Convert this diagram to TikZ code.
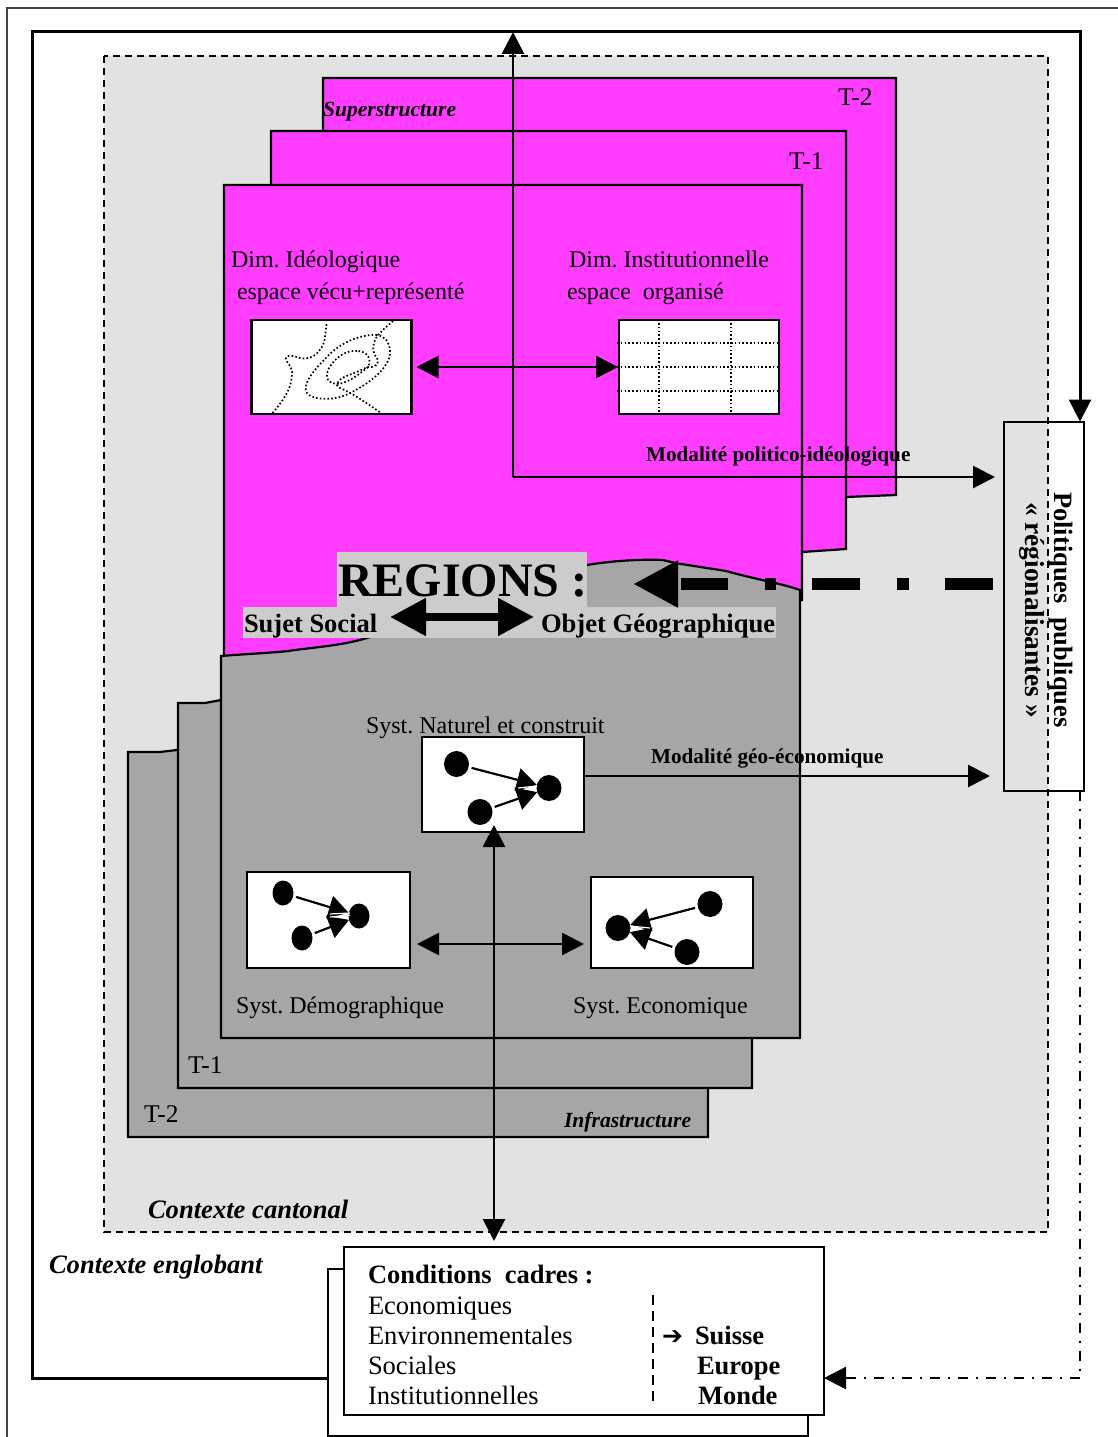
\documentclass[tikz,border=0pt]{standalone}
\usepackage{fontspec}
\setmainfont{Liberation Serif}
\newfontfamily\dejavu{DejaVu Sans}
\usetikzlibrary{arrows.meta,shapes.geometric,calc}
\newcommand{\fsz}[1]{\fontsize{#1}{#1}\selectfont\frenchspacing}
\definecolor{ctxgray}{HTML}{E2E2E2}
\definecolor{sheetgray}{HTML}{A6A6A6}
\definecolor{labelgray}{HTML}{CCCCCC}
\definecolor{sheetpink}{HTML}{FF3CFF}
\tikzset{
  txt/.style={anchor=base west,inner sep=0pt,outer sep=0pt,text=black},
  body/.style={txt,font=\fsz{24}},
  tlab/.style={txt,font=\fsz{25.5}},
  bodyl/.style={txt,font=\fsz{26.5}},
  boldl/.style={txt,font=\fsz{26.5}\bfseries},
  modal/.style={txt,font=\fsz{21.2}\bfseries},
  itb/.style={txt,font=\fsz{26.6}\bfseries\itshape},
  its/.style={txt,font=\fsz{21.6}\bfseries\itshape},
  pinksheet/.style={fill=sheetpink,draw=black,line width=2.2pt},
  graysheet/.style={fill=sheetgray,draw=black,line width=2.2pt},
  wbox/.style={draw=black,fill=white,line width=2.4pt,inner sep=0pt,outer sep=0pt},
  dotline/.style={black,line width=1.7pt,dash pattern=on 1.6pt off 2.2pt},
  blob/.style={ellipse,fill=black,inner sep=0pt,outer sep=0pt},
  arr/.style={line width=2.8pt,draw=black,-{Triangle[length=22pt,width=22pt]}},
  dblarr/.style={line width=2.8pt,draw=black,{Triangle[length=22pt,width=22pt]}-{Triangle[length=22pt,width=22pt]}},
  smallarr/.style={line width=2.2pt,draw=black,-{Triangle[length=20pt,width=23pt]}},
  sliver/.style={white,line width=1.2pt},
}
\begin{document}
\begin{tikzpicture}[x=1pt,y=-1pt]
\useasboundingbox (0,0) rectangle (1118,1437);
% page frame
\draw[line width=1.2pt,black!75] (1118,8) -- (7,8) -- (7,1437);
% context
\draw[fill=ctxgray,draw=none] (104,56) rectangle (1048,1232);
% named points
\coordinate (c1) at (32,1378);
\coordinate (c2) at (32,32);
\coordinate (c3) at (1080,32);
\coordinate (j) at (513,477);
\coordinate (g) at (700,776);
\coordinate (k) at (1080,1378);
\coordinate (m) at (494,944);
\coordinate (vtop) at (494,825);
\coordinate (vbot) at (494,1241);
\coordinate (bigr) at (993,584);
\coordinate (bigl) at (633,584);
\coordinate (twol) at (390,617);
\coordinate (twor) at (534,617);
% pink sheets
\draw[pinksheet] (323,78) -- (896,78) -- (896,495) -- (846,497) -- (323,497) -- cycle;
\draw[pinksheet] (271,131) -- (846,131) -- (846,549) -- (802,552) -- (271,552) -- cycle;
\draw[pinksheet] (224,185) -- (802,185) -- (802,600) -- (700,640) -- (224,658) -- cycle;
% gray sheets
\draw[graysheet] (128,752) -- (160,752) -- (177,750) -- (708,750) -- (708,1137) -- (128,1137) -- cycle;
\draw[graysheet] (178,703) -- (205,703) -- (221,700) -- (752,700) -- (752,1088) -- (178,1088) -- cycle;
\draw[graysheet] (221,656) .. controls (245,654) and (270,653) .. (288,651)
  .. controls (315,647) and (340,646) .. (367,638)
  .. controls (420,622) and (520,575) .. (587,565)
  .. controls (610,561) and (640,559) .. (663,560)
  -- (675,563) -- (726,571)
  .. controls (750,578) and (780,583) .. (800,590)
  -- (800,1038) -- (221,1038) -- cycle;
% sheet texts
\node[its] (superl) at (323,116) {Superstructure};
\node[tlab] (t2a) at (838,105) {T-2};
\node[tlab] (t1a) at (789,169) {T-1};
\node[tlab] (t1b) at (188,1073) {T-1};
\node[tlab] (t2b) at (144,1122) {T-2};
\node[its] (infral) at (564,1127) {Infrastructure};
\node[body] (dimi) at (231,267) {Dim. Idéologique};
\node[body] (espv) at (237,299) {espace vécu+représenté};
\node[body] (dimt) at (569,267) {Dim. Institutionnelle};
\node[body] (espo) at (567,299) {espace\ \ organisé};
\node[body] (natl) at (366,733) {Syst. Naturel et construit};
\node[body] (deml) at (236,1013) {Syst. Démographique};
\node[body] (ecol) at (573,1013) {Syst. Economique};
\node[itb] (cant) at (148,1218) {Contexte cantonal};
\node[itb] (engl) at (49,1273) {Contexte englobant};
% ideological box
\node[wbox,minimum width=160pt,minimum height=94pt] (ideo) at (331.5,367) {};
\draw[dotline] ($(ideo.north west)+(0,0)$) ++(21,93) .. controls (288,395) and (292,385) .. (292,372)
  .. controls (292,365) and (285,362) .. (286,358)
  .. controls (288,354) and (294,356) .. (300,358)
  .. controls (310,360) and (318,355) .. (323,345)
  .. controls (326,338) and (325,330) .. (327,322);
\draw[dotline] (377,335) .. controls (362,334) and (340,342) .. (326,358)
  .. controls (312,372) and (302,385) .. (307,393)
  .. controls (312,400) and (335,402) .. (352,392)
  .. controls (372,382) and (392,365) .. (390,350)
  .. controls (389,342) and (385,336) .. (377,335);
\draw[dotline] (357,351) .. controls (345,350) and (335,358) .. (329,368)
  .. controls (324,378) and (328,384) .. (339,384)
  .. controls (350,382) and (362,372) .. (368,367)
  .. controls (372,360) and (368,351) .. (357,351);
\draw[dotline] (393,321) .. controls (385,328) and (380,332) .. (376,338)
  .. controls (372,346) and (372,352) .. (377,358)
  .. controls (380,364) and (375,368) .. (367,367)
  .. controls (355,374) and (342,376) .. (339,381)
  .. controls (336,384) and (336,386) .. (340,388)
  .. controls (352,393) and (365,402) .. (381,413);
% institutional box
\node[wbox,minimum width=160pt,minimum height=94pt] (inst) at (699,367) {};
\foreach \yy in {343,367,391} \draw[dotline] (617,\yy) -- (779,\yy);
\foreach \xx in {659,731} \draw[dotline] (\xx,323) -- (\xx,413);
% gray labels
\node[fill=labelgray,inner sep=0pt,outer sep=0pt,minimum width=250pt,minimum height=55pt] (reglabel) at (462,579.5) {};
\node[fill=labelgray,inner sep=0pt,outer sep=0pt,minimum width=533pt,minimum height=31pt] (rowlabel) at (509.5,622.5) {};
\node[txt,font=\fsz{48}\bfseries] (regions) at (338,596) {REGIONS :};
\node[txt,font=\fsz{26.5}\bfseries] (sujet) at (244,632) {Sujet Social};
\node[txt,font=\fsz{26.6}\bfseries] (objet) at (541,632) {Objet Géographique};
% natural systems boxes
\node[wbox,minimum width=162pt,minimum height=95pt] (nat) at (503,784.5) {};
\node[wbox,minimum width=163pt,minimum height=96pt] (dem) at (328.5,920) {};
\node[wbox,minimum width=162pt,minimum height=91pt] (eco) at (672,922.5) {};
\node[blob,minimum width=25pt,minimum height=26pt] (n1) at (456.5,764) {};
\node[blob,minimum width=25pt,minimum height=26pt] (n2) at (480,812) {};
\node[blob,minimum width=25pt,minimum height=26pt] (n3) at (549,788) {};
\draw[smallarr,shorten <=3pt] (n1) -- (n3);
\draw[smallarr,shorten <=3pt] (n2) -- (n3);
\draw[sliver] (518,788) -- (537,786);
\node[blob,minimum width=21pt,minimum height=25pt] (d1) at (283,893) {};
\node[blob,minimum width=21pt,minimum height=25pt] (d2) at (302,938) {};
\node[blob,minimum width=21pt,minimum height=25pt] (d3) at (359,916) {};
\draw[smallarr,shorten <=3pt] (d1) -- (d3);
\draw[smallarr,shorten <=3pt] (d2) -- (d3);
\draw[sliver] (330,914) -- (350,913);
\draw[sliver] (330,917) -- (350,915.5);
\node[blob,minimum width=25pt,minimum height=26pt] (e1) at (710,904) {};
\node[blob,minimum width=25pt,minimum height=26pt] (e2) at (687,952) {};
\node[blob,minimum width=25pt,minimum height=26pt] (e3) at (618,928) {};
\draw[smallarr,shorten <=3pt] (e1) -- (e3);
\draw[smallarr,shorten <=3pt] (e2) -- (e3);
\draw[sliver] (630,926) -- (650,928);
% bottom boxes
\node[draw=black,fill=white,line width=1.6pt,minimum width=480pt,minimum height=167pt,inner sep=0pt,outer sep=0pt] (back) at (568,1352.5) {};
\node[wbox,minimum width=480pt,minimum height=168pt] (cond) at (584,1331) {};
\node[boldl] (ccadres) at (368,1283) {Conditions\ \ cadres :};
\node[bodyl] (ceco) at (368,1314) {Economiques};
\node[bodyl] (cenv) at (368,1344) {Environnementales};
\node[bodyl] (csoc) at (368,1374) {Sociales};
\node[bodyl] (cins) at (368,1404) {Institutionnelles};
\node[txt,font=\fsz{25}\dejavu\bfseries] (carr) at (662,1344) {➔};
\node[boldl] (csui) at (695,1344) {Suisse};
\node[boldl] (ceur) at (697,1374) {Europe};
\node[boldl] (cmon) at (698,1404) {Monde};
\coordinate (s1) at (653,1295);
\coordinate (s2) at (653,1405);
\draw[black,line width=1.2pt,dash pattern=on 10pt off 6pt] (s1) -- (s2);
% policies box
\node[draw=black,line width=2pt,minimum width=80pt,minimum height=369pt,inner sep=0pt,outer sep=0pt] (pol) at (1044,606) {};
% context dashed border
\draw[black,line width=2pt,dash pattern=on 7pt off 5pt] (104,56) rectangle (1048,1232);
\node[txt,rotate=-90,font=\fsz{26.5}\bfseries] (polt1) at (1054,492) {Politiques\ \ publiques};
\node[txt,rotate=-90,font=\fsz{27.4}\bfseries] (polt2) at (1025,502) {« régionalisantes »};
% connectors
\draw[line width=3pt,draw=black,-{Triangle[length=22pt,width=22pt]}] (back.west|-c1) -- (c1) -- (c2) -- (c3) -- (pol.north-|c3);
\draw[arr] (j) -- (j|-c2);
\draw[arr,shorten >=9pt] (j) -- (pol.west|-j);
\node[modal] (mpol) at (646,461) {Modalité politico-idéologique};
\draw[arr,shorten >=14pt] (nat.east|-g) -- (pol.west|-g);
\node[modal] (mgeo) at (651,763) {Modalité géo-économique};
\draw[dblarr,shorten <=5pt,shorten >=1pt] (ideo) -- (inst);
\draw[dblarr,shorten <=7pt,shorten >=7pt] (dem.east|-m) -- (eco.west|-m);
\draw[dblarr] (vtop) -- (vbot);
\draw[line width=2.4pt,draw=black,dash pattern=on 10pt off 8pt on 2pt off 8pt,-{Triangle[length=22pt,width=22pt]}] (pol.south-|k) -- (k) -- (cond.east|-k);
\draw[line width=12pt,draw=black,dash pattern=on 48pt off 36pt on 12pt off 37pt on 48pt off 36pt on 11pt off 37pt on 47pt off 100pt,-{Triangle[length=45pt,width=44pt]}] (bigr) -- (bigl);
\draw[line width=8pt,draw=black,{Triangle[length=36pt,width=36pt]}-{Triangle[length=36pt,width=36pt]}] (twol) -- (twor);
\end{tikzpicture}
\end{document}
